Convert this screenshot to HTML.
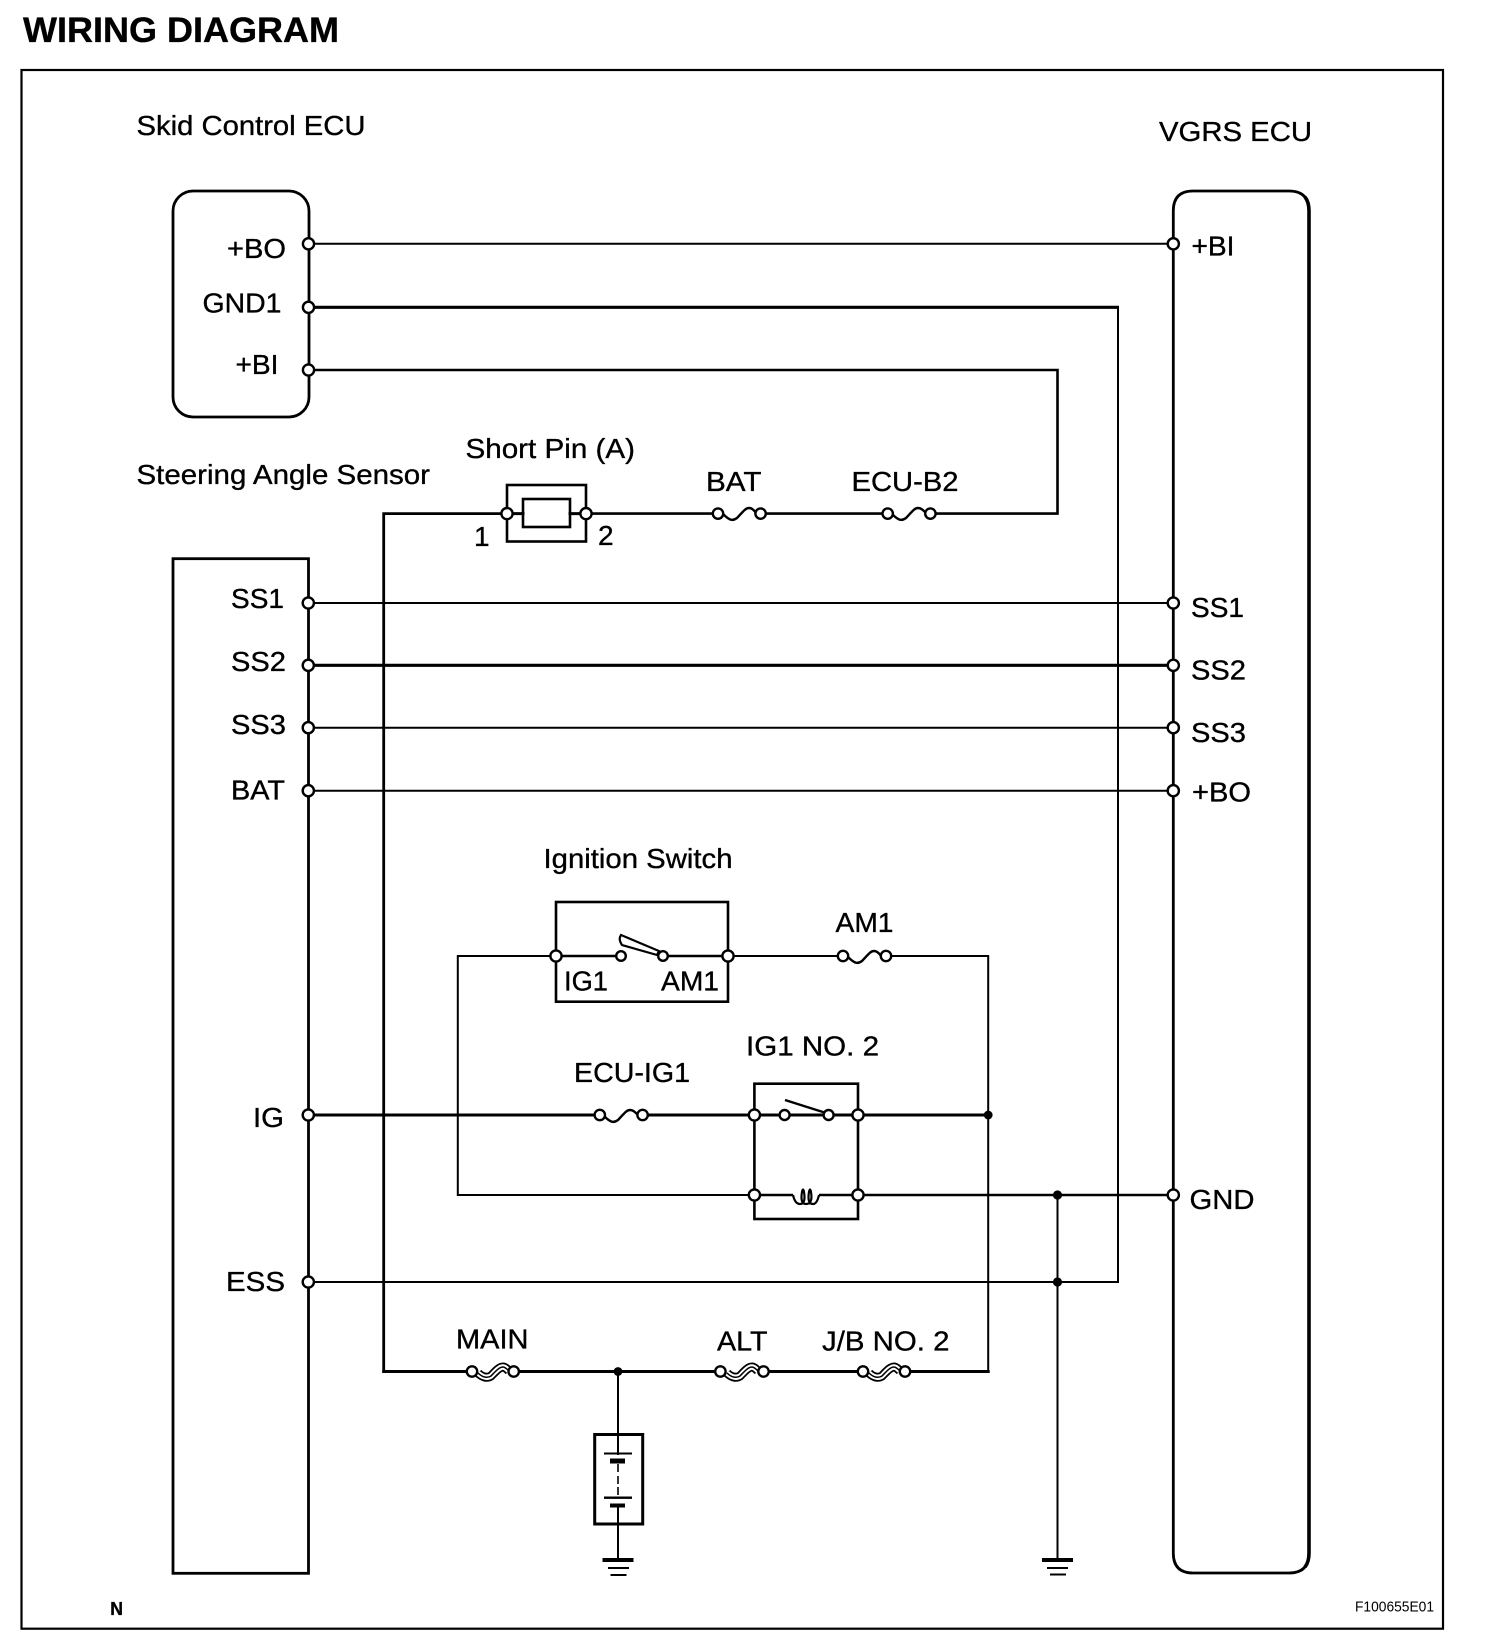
<!DOCTYPE html>
<html>
<head>
<meta charset="utf-8">
<style>
html,body{margin:0;padding:0;background:#fff;width:1504px;height:1638px;overflow:hidden}
svg{display:block}
text{font-family:"Liberation Sans",Arial,sans-serif;font-size:28px;fill:#000;stroke:#000;stroke-width:0.35}
.w{fill:none;stroke:#000;stroke-linecap:square;stroke-linejoin:miter}
.p{fill:#fff;stroke:#000;stroke-width:2.4}
.f{fill:none;stroke:#000;stroke-width:2.4}
</style>
</head>
<body>
<svg xmlns="http://www.w3.org/2000/svg" width="1504" height="1638" viewBox="0 0 1504 1638">
<rect width="1504" height="1638" fill="#fff"/>

<!-- frame -->
<rect class="w" x="21.5" y="70" width="1421.5" height="1558.7" stroke-width="2.2"/>

<!-- boxes -->
<rect class="w" x="173" y="191" width="136" height="226" rx="20" ry="20" stroke-width="2.8"/>
<rect class="w" x="173" y="558.7" width="135.5" height="1014.6" stroke-width="2.8"/>
<rect class="w" x="1173.3" y="191" width="135.7" height="382" rx="20" ry="20" stroke-width="0" />
<path fill="none" stroke="#000" stroke-width="2.8" d="M1193,191 H1289 Q1309,191 1309,211 V1553 Q1309,1573 1289,1573 H1193 Q1173.3,1573 1173.3,1553 V211 Q1173.3,191 1193,191 Z"/>
<path fill="none" stroke="#000" stroke-width="3.6" d="M1305,197 Q1309,202 1309,211 V1553 Q1309,1562 1305,1567"/>

<!-- wires -->
<path class="w" stroke-width="2" d="M308,243.8 H1173"/>
<path fill="none" stroke="#000" stroke-width="3.2" d="M308,307.3 H1119"/>
<path class="w" stroke-width="2" d="M1118,307.3 V1282 H308"/>
<path class="w" stroke-width="2.6" d="M308,370 H1057.5 V513.6 H586"/>
<path class="w" stroke-width="2.8" d="M507,513.6 H383.7 V1371.5"/>
<path class="w" stroke-width="2" d="M308,603 H1173"/>
<path class="w" stroke-width="3.2" d="M308,665.3 H1173"/>
<path class="w" stroke-width="2" d="M308,727.7 H1173"/>
<path class="w" stroke-width="2" d="M308,790.7 H1173"/>
<path class="w" stroke-width="3" d="M308,1115 H988"/>
<path class="w" stroke-width="2" d="M556,956 H457.8 V1195 H754"/>
<path class="w" stroke-width="2" d="M728,956 H988.2 V1371.5"/>
<path class="w" stroke-width="2.6" d="M858,1195 H1173"/>
<path class="w" stroke-width="2" d="M1057.5,1195 V1560"/>
<path class="w" stroke-width="3" d="M383.7,1371.5 H988.2"/>
<path class="w" stroke-width="2" d="M618,1371.5 V1454 M618,1506 V1560"/>

<!-- short pin -->
<rect class="w" x="507" y="485" width="79" height="56.5" stroke-width="2.6"/>
<rect x="523" y="499" width="47" height="28" fill="#fff" stroke="#000" stroke-width="2.6"/>
<path class="w" stroke-width="3" d="M507,513.6 H523 M570,513.6 H586"/>

<!-- ignition switch -->
<rect class="w" x="556" y="902" width="172" height="99.7" stroke-width="2.6"/>
<path class="w" stroke-width="2.4" d="M556,956 H621 M663,956 H728"/>
<path d="M621,935 L659,951 L657,955 L622,945 Q618,939 621,935 Z" fill="#fff" stroke="#000" stroke-width="2.2"/>

<!-- relay -->
<rect class="w" x="754.4" y="1083.7" width="103.6" height="135.3" stroke-width="2.6"/>
<path d="M785,1100 L826,1113" fill="none" stroke="#000" stroke-width="2.4"/>
<path class="w" stroke-width="2.6" d="M754,1195 H794 M818,1195 H858"/>
<rect x="793" y="1185" width="26" height="18" fill="#fff"/>
<path d="M793,1195 Q795,1204 800,1204 Q806,1204 804,1192 Q803,1187 802,1192 Q800,1204 806,1204 Q813,1204 811,1192 Q810,1187 809,1192 Q807,1204 813,1204 Q817,1204 819,1195" fill="none" stroke="#000" stroke-width="2.2"/>

<!-- fuses -->
<rect x="723" y="503" width="33" height="20" fill="#fff"/>
<path class="f" d="M723,514 C730,521 733,521 737,518 C742,513 745,508 749,508 C752,508 754,510 756,513"/>
<circle class="p" cx="718" cy="513.6" r="5.2"/><circle class="p" cx="760.6" cy="513.6" r="5.2"/>
<rect x="892" y="503" width="34" height="20" fill="#fff"/>
<path class="f" d="M892,514 C899,521 902,521 906,518 C911,513 914,508 918,508 C921,508 923,510 926,513"/>
<circle class="p" cx="887.7" cy="513.6" r="5.2"/><circle class="p" cx="930.4" cy="513.6" r="5.2"/>
<rect x="848" y="946" width="34" height="20" fill="#fff"/>
<path class="f" d="M848,957 C855,964 858,964 862,961 C867,956 870,951 874,951 C877,951 879,953 881,956"/>
<circle class="p" cx="843" cy="956" r="5.2"/><circle class="p" cx="886" cy="956" r="5.2"/>
<rect x="604" y="1105" width="34" height="20" fill="#fff"/>
<path class="f" d="M604,1116 C611,1123 614,1123 618,1120 C623,1115 626,1110 630,1110 C633,1110 635,1112 638,1115"/>
<circle class="p" cx="599.8" cy="1115" r="5.2"/><circle class="p" cx="642.6" cy="1115" r="5.2"/>

<!-- fusible links -->
<g>
<rect x="477" y="1360" width="32" height="23" fill="#fff"/>
<path d="M478,1373 C483,1378 488,1378 491,1376 C495,1372 499,1367 503,1367 C505,1367 507,1369 509,1371" fill="none" stroke="#000" stroke-width="9"/>
<path d="M478,1373 C483,1378 488,1378 491,1376 C495,1372 499,1367 503,1367 C505,1367 507,1369 509,1371" fill="none" stroke="#fff" stroke-width="5.4"/>
<path d="M478,1373 C483,1378 488,1378 491,1376 C495,1372 499,1367 503,1367 C505,1367 507,1369 509,1371" fill="none" stroke="#000" stroke-width="1.5"/>
<circle class="p" cx="472" cy="1371.5" r="5.2"/><circle class="p" cx="513.7" cy="1371.5" r="5.2"/>
</g>
<g>
<rect x="726" y="1360" width="32" height="23" fill="#fff"/>
<path d="M727,1373 C732,1378 737,1378 740,1376 C744,1372 748,1367 752,1367 C754,1367 756,1369 758,1371" fill="none" stroke="#000" stroke-width="9"/>
<path d="M727,1373 C732,1378 737,1378 740,1376 C744,1372 748,1367 752,1367 C754,1367 756,1369 758,1371" fill="none" stroke="#fff" stroke-width="5.4"/>
<path d="M727,1373 C732,1378 737,1378 740,1376 C744,1372 748,1367 752,1367 C754,1367 756,1369 758,1371" fill="none" stroke="#000" stroke-width="1.5"/>
<circle class="p" cx="720.4" cy="1371.5" r="5.2"/><circle class="p" cx="763.5" cy="1371.5" r="5.2"/>
</g>
<g>
<rect x="868" y="1360" width="32" height="23" fill="#fff"/>
<path d="M869,1373 C874,1378 879,1378 882,1376 C886,1372 890,1367 894,1367 C896,1367 898,1369 900,1371" fill="none" stroke="#000" stroke-width="9"/>
<path d="M869,1373 C874,1378 879,1378 882,1376 C886,1372 890,1367 894,1367 C896,1367 898,1369 900,1371" fill="none" stroke="#fff" stroke-width="5.4"/>
<path d="M869,1373 C874,1378 879,1378 882,1376 C886,1372 890,1367 894,1367 C896,1367 898,1369 900,1371" fill="none" stroke="#000" stroke-width="1.5"/>
<circle class="p" cx="863" cy="1371.5" r="5.2"/><circle class="p" cx="905" cy="1371.5" r="5.2"/>
</g>

<!-- battery -->
<rect x="594.7" y="1434.5" width="48" height="89.5" fill="none" stroke="#000" stroke-width="3"/>
<rect x="604" y="1452.5" width="28" height="2" fill="#000"/>
<rect x="610" y="1458.5" width="15" height="5" fill="#000"/>
<path d="M618,1464 V1472 M618,1476 V1484 M618,1487 V1495" fill="none" stroke="#000" stroke-width="1.6"/>
<rect x="604" y="1496.5" width="28" height="2.4" fill="#000"/>
<rect x="610" y="1503.5" width="15" height="4" fill="#000"/>
<path d="M618,1507 V1520" stroke="#000" stroke-width="2"/>

<!-- grounds -->
<rect x="602.5" y="1558" width="31" height="4" fill="#000"/>
<rect x="608" y="1567" width="21" height="2" fill="#000"/>
<rect x="610.5" y="1574" width="16" height="2" fill="#000"/>
<rect x="1042" y="1558" width="31" height="4" fill="#000"/>
<rect x="1047" y="1567" width="21" height="2" fill="#000"/>
<rect x="1050" y="1573.5" width="16" height="2" fill="#000"/>

<!-- junctions -->
<circle cx="988.2" cy="1115" r="4.4" fill="#000"/>
<circle cx="1057.5" cy="1195" r="4.6" fill="#000"/>
<circle cx="1057.5" cy="1282" r="4.6" fill="#000"/>
<circle cx="618" cy="1371.5" r="4.4" fill="#000"/>

<!-- pins -->
<circle class="p" cx="308.5" cy="243.8" r="5.6"/>
<circle class="p" cx="308.5" cy="307.3" r="5.6"/>
<circle class="p" cx="308.5" cy="370" r="5.6"/>
<circle class="p" cx="308.3" cy="603" r="5.6"/>
<circle class="p" cx="308.3" cy="665.3" r="5.6"/>
<circle class="p" cx="308.3" cy="727.7" r="5.6"/>
<circle class="p" cx="308.3" cy="790.7" r="5.6"/>
<circle class="p" cx="308.3" cy="1115" r="5.6"/>
<circle class="p" cx="308.3" cy="1282" r="5.6"/>
<circle class="p" cx="1173.3" cy="243.8" r="5.6"/>
<circle class="p" cx="1173.3" cy="603" r="5.6"/>
<circle class="p" cx="1173.3" cy="665.3" r="5.6"/>
<circle class="p" cx="1173.3" cy="727.7" r="5.6"/>
<circle class="p" cx="1173.3" cy="790.7" r="5.6"/>
<circle class="p" cx="1173.3" cy="1195" r="5.6"/>
<circle class="p" cx="507" cy="513.6" r="5.6"/>
<circle class="p" cx="586" cy="513.6" r="5.6"/>
<circle class="p" cx="556" cy="956" r="5.6"/>
<circle class="p" cx="728" cy="956" r="5.6"/>
<circle class="p" cx="621" cy="956" r="4.8"/>
<circle class="p" cx="663" cy="956" r="4.8"/>
<circle class="p" cx="754.4" cy="1115" r="5.6"/>
<circle class="p" cx="858" cy="1115" r="5.6"/>
<circle class="p" cx="784.6" cy="1115" r="5"/>
<circle class="p" cx="828.6" cy="1115" r="5"/>
<circle class="p" cx="754.4" cy="1195" r="5.6"/>
<circle class="p" cx="858" cy="1195" r="5.6"/>

<!-- labels -->
<text x="23" y="42" style="font-size:35px;font-weight:bold" textLength="316" lengthAdjust="spacingAndGlyphs">WIRING DIAGRAM</text>
<text x="136.5" y="135" textLength="229" lengthAdjust="spacingAndGlyphs">Skid Control ECU</text>
<text x="1159" y="141" textLength="153" lengthAdjust="spacingAndGlyphs">VGRS ECU</text>
<text x="227" y="258" textLength="59" lengthAdjust="spacingAndGlyphs">+BO</text>
<text x="202.5" y="312.7" textLength="79" lengthAdjust="spacingAndGlyphs">GND1</text>
<text x="235.5" y="374" textLength="43" lengthAdjust="spacingAndGlyphs">+BI</text>
<text x="465.5" y="458" textLength="169.5" lengthAdjust="spacingAndGlyphs">Short Pin (A)</text>
<text x="136.5" y="484" textLength="293.5" lengthAdjust="spacingAndGlyphs">Steering Angle Sensor</text>
<text x="474" y="546">1</text>
<text x="598" y="545">2</text>
<text x="706" y="491" textLength="55.5" lengthAdjust="spacingAndGlyphs">BAT</text>
<text x="851.5" y="491" textLength="107" lengthAdjust="spacingAndGlyphs">ECU-B2</text>
<text x="1191.5" y="255.6" textLength="43" lengthAdjust="spacingAndGlyphs">+BI</text>
<text x="231" y="608" textLength="53" lengthAdjust="spacingAndGlyphs">SS1</text>
<text x="231" y="671" textLength="55" lengthAdjust="spacingAndGlyphs">SS2</text>
<text x="231" y="734" textLength="55" lengthAdjust="spacingAndGlyphs">SS3</text>
<text x="231" y="799.3" textLength="54" lengthAdjust="spacingAndGlyphs">BAT</text>
<text x="1191" y="617" textLength="53" lengthAdjust="spacingAndGlyphs">SS1</text>
<text x="1191" y="679.5" textLength="55" lengthAdjust="spacingAndGlyphs">SS2</text>
<text x="1191" y="742" textLength="55" lengthAdjust="spacingAndGlyphs">SS3</text>
<text x="1192" y="801.5" textLength="59" lengthAdjust="spacingAndGlyphs">+BO</text>
<text x="1189.5" y="1209" textLength="65" lengthAdjust="spacingAndGlyphs">GND</text>
<text x="253" y="1127" textLength="31" lengthAdjust="spacingAndGlyphs">IG</text>
<text x="226" y="1291" textLength="59" lengthAdjust="spacingAndGlyphs">ESS</text>
<text x="543.5" y="868" textLength="189" lengthAdjust="spacingAndGlyphs">Ignition Switch</text>
<text x="835.5" y="932" textLength="58" lengthAdjust="spacingAndGlyphs">AM1</text>
<text x="564" y="990.7" textLength="44" lengthAdjust="spacingAndGlyphs">IG1</text>
<text x="661" y="990.7" textLength="58" lengthAdjust="spacingAndGlyphs">AM1</text>
<text x="746" y="1055.7" textLength="133" lengthAdjust="spacingAndGlyphs">IG1 NO. 2</text>
<text x="574" y="1082" textLength="116" lengthAdjust="spacingAndGlyphs">ECU-IG1</text>
<text x="456" y="1348.7" textLength="72.5" lengthAdjust="spacingAndGlyphs">MAIN</text>
<text x="717" y="1350.7" textLength="50.5" lengthAdjust="spacingAndGlyphs">ALT</text>
<text x="822" y="1350.7" textLength="127.5" lengthAdjust="spacingAndGlyphs">J/B NO. 2</text>
<text x="110.3" y="1615" style="font-size:18px;font-weight:bold" textLength="12.7" lengthAdjust="spacingAndGlyphs">N</text>
<text x="1355" y="1611.5" style="font-size:15px;stroke-width:0" textLength="79" lengthAdjust="spacingAndGlyphs">F100655E01</text>
</svg>
</body>
</html>
